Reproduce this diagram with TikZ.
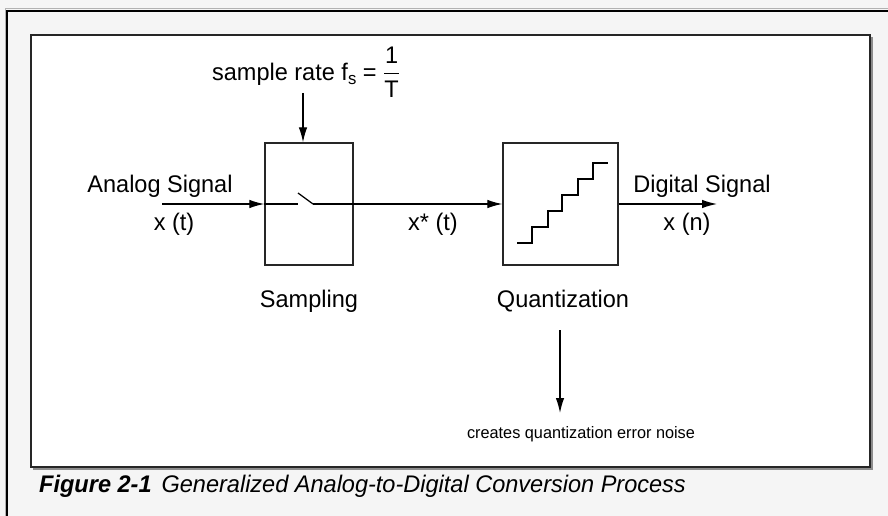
\documentclass[tikz,border=0pt]{standalone}
\usepackage{amsmath}
\usepackage{fontspec}
\setmainfont{Liberation Sans}[FakeStretch=0.98]
\usetikzlibrary{arrows.meta}
\definecolor{pagegray}{HTML}{F5F5F5}
\tikzset{
	block/.style={draw=black!85, line width=1.3pt, fill=white, inner sep=0pt},
	sig/.style={line width=1.25pt},
	sigarrow/.style={sig, -{Latex[length=15pt,width=8.5pt]}},
	lbl/.style={font=\fontsize{24}{27}\selectfont, inner sep=0pt, anchor=base},
	smalllbl/.style={font=\fontsize{16.6}{19}\selectfont, inner sep=0pt, anchor=base},
}

\begin{document}
\begin{tikzpicture}[x=1pt, y=-1pt]
		%%%%% START %%%%%
		\useasboundingbox (0, 0) rectangle (888, 516);
		\fill[pagegray] (0, 0) rectangle (888, 516);
		\draw[black!30, line width=1pt] (5, 516) -- (5, 9) -- (888, 9);
		\draw[line width=2.5pt] (7, 516) -- (7, 11) -- (888, 11);
		
		\draw[black!45, line width=1.2pt] (33, 469) -- (872, 469) -- (872, 37);
		\draw[black!85, line width=1.2pt, fill=white] (31, 35) rectangle (870, 467);
		
		\node[block, minimum width=88pt, minimum height=122pt] (samp) at (309, 204) {};
		\node[block, minimum width=115pt, minimum height=122pt] (quant) at (560.5, 204) {};
		
		\coordinate (ain) at (162, 204);
		\coordinate (swa) at (298, 204);
		\coordinate (swtip) at (298, 193);
		\coordinate (swb) at (313, 204);
		\coordinate (dout) at (717, 204);
		\draw[sigarrow] (ain) -- (samp.west);
		\draw[sig] (samp.west) -- (swa);
		\draw[sig] (swtip) -- (swb);
		\draw[sigarrow] (swb) -- (quant.west);
		\draw[sigarrow] (quant.east) -- (dout);
		
		\draw[sig] (517, 243) -- (532, 243) -- (532, 227) -- (548, 227) -- (548, 211) -- (562, 211)
			-- (562, 195) -- (578, 195) -- (578, 179) -- (593, 179) -- (593, 163) -- (608, 163);
		
		\node[lbl, anchor=center] (rate) at (306, 72) {sample rate f\raisebox{-4pt}{\fontsize{17}{19}\selectfont s} = $\dfrac{\text{1}}{\text{T}}$};
		\coordinate (rtop) at (303, 93);
		\draw[sigarrow] (rtop) -- (rtop |- samp.north);
		
		\node[lbl] (ainlbl) at (160, 192) {Analog Signal};
		\node[lbl] (xt) at (174, 230) {x (t)};
		\node[lbl] (xst) at (433, 230) {x* (t)};
		\node[lbl] (doutlbl) at (702, 192) {Digital Signal};
		\node[lbl] (xn) at (687, 230) {x (n)};
		\node[lbl] (samplbl) at (309, 307) {Sampling};
		\node[lbl] (quantlbl) at (563, 307) {Quantization};
		
		\coordinate (qtop) at (560, 330);
		\coordinate (qbot) at (560, 413);
		\draw[sigarrow] (qtop) -- (qbot);
		\node[smalllbl] (noise) at (581, 438) {creates quantization error noise};
		
		\node[lbl, anchor=base west] (cap) at (39, 492) {\textbf{\textit{Figure 2-1}}\hspace{10pt}\textit{Generalized Analog-to-Digital Conversion Process}};
		%%%%% END %%%%%
\end{tikzpicture}
\end{document}
